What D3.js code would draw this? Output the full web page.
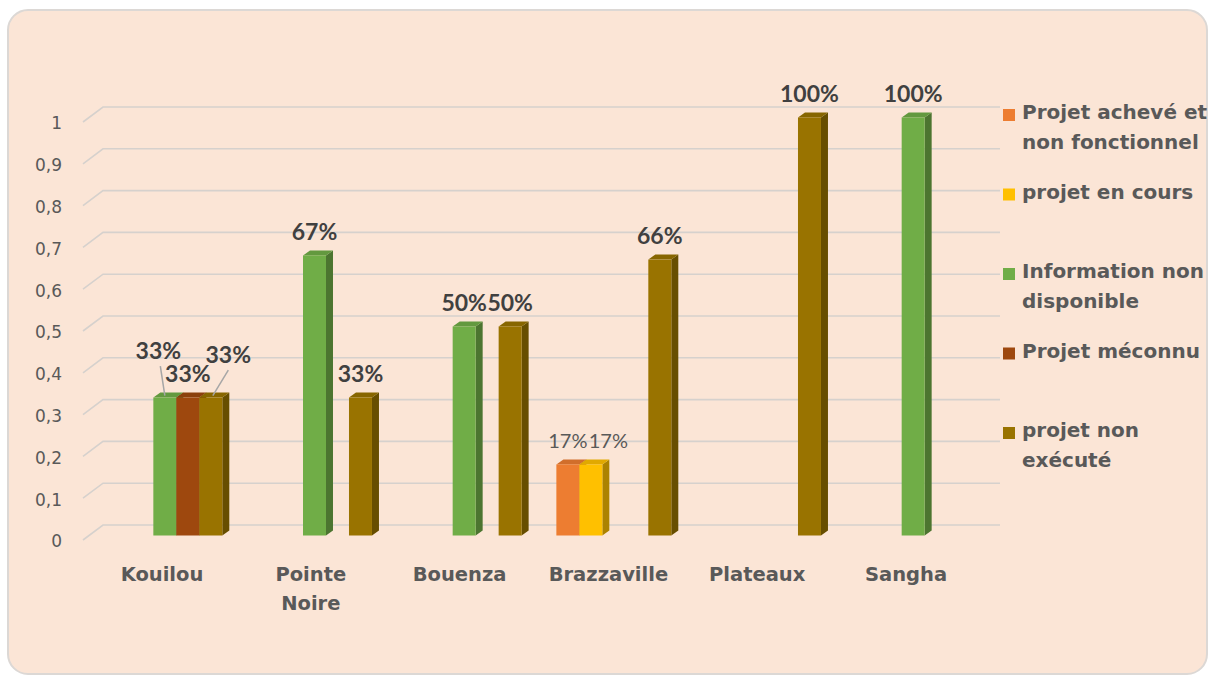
<!DOCTYPE html>
<html><head><meta charset="utf-8">
<script src="https://cdn.jsdelivr.net/npm/d3@7"></script>
<style>html,body{margin:0;padding:0;background:#fff;}svg{display:block;}</style>
</head><body>
<svg id="chart" width="1212" height="680"></svg>
<script>
// ---------- DATA ----------
const categories = ["Kouilou", "Pointe Noire", "Bouenza", "Brazzaville", "Plateaux", "Sangha"];
const seriesNames = ["Projet achevé et non fonctionnel", "projet en cours", "Information non disponible", "Projet méconnu", "projet non exécuté"];
const acheveNonFonctionnel = [null, null, null, 0.17, null, null];
const projetEnCours       = [null, null, null, 0.17, null, null];
const infoNonDisponible   = [0.33, 0.67, 0.50, null, null, 1.00];
const projetMeconnu       = [0.33, null, null, null, null, null];
const projetNonExecute    = [0.33, 0.33, 0.50, 0.66, 1.00, null];
const yTicks = [0, 0.1, 0.2, 0.3, 0.4, 0.5, 0.6, 0.7, 0.8, 0.9, 1];
const seriesColors = ["#ed7d31", "#ffc000", "#70ad47", "#9e480e", "#997300"];
const seriesValues = [acheveNonFonctionnel, projetEnCours, infoNonDisponible, projetMeconnu, projetNonExecute];

// ---------- LAYOUT ----------
const svg = d3.select("#chart");
svg.append("rect").attr("x", 8).attr("y", 10).attr("width", 1199).attr("height", 664)
  .attr("rx", 20).attr("fill", "#fbe5d6").attr("stroke", "#dcd8d5").attr("stroke-width", 2);

const yFront = d3.scaleLinear().domain([0, 1]).range([540, 122]);
const yBar = d3.scaleLinear().domain([0, 1]).range([535.5, 117.5]);
const depthX = 7, depthY = -5;
const wallDX = 20, wallDY = -15;

const x0 = d3.scaleBand().domain(categories).range([90, 988]).paddingInner(0.232).paddingOuter(0.116);
const x1 = d3.scaleBand().domain(seriesNames).range([0, x0.bandwidth()]).padding(0);
const labelX = d3.scalePoint().domain(categories).range([162, 906]);

// gridlines (3D back wall)
const grid = svg.append("g");
yTicks.forEach(t => {
  const y = yFront(t);
  grid.append("path")
    .attr("d", `M83,${y}L${83 + wallDX},${y + wallDY}L1000,${y + wallDY}`)
    .attr("fill", "none").attr("stroke", "#d6d1cd").attr("stroke-width", 1.6);
});

// y axis
const yAxis = svg.append("g").attr("transform", "translate(70,0)")
  .call(d3.axisLeft(yFront).tickValues(yTicks).tickSize(0).tickPadding(8)
    .tickFormat(d => String(+d.toFixed(1)).replace(".", ",")));
yAxis.select(".domain").remove();
yAxis.selectAll("text").attr("font-family", "DejaVu Sans").attr("font-size", 17)
  .attr("fill", "#595959").attr("dy", "0.4em");

// bars
const barsG = svg.append("g");
const bars = [];
categories.forEach((c, ci) => {
  seriesNames.forEach((s, si) => {
    const v = seriesValues[si][ci];
    if (v === null || v === undefined) return;
    bars.push({c, ci, s, si, v});
  });
});
bars.forEach(b => {
  const x = x0(b.c) + x1(b.s);
  const w = x1.bandwidth();
  const yt = yBar(b.v), yb = yBar(0);
  const col = d3.color(seriesColors[b.si]);
  const g = barsG.append("g");
  g.append("path")
    .attr("d", `M${x + w},${yt}L${x + w + depthX},${yt + depthY}L${x + w + depthX},${yb + depthY}L${x + w},${yb}Z`)
    .attr("fill", col.darker(1.1));
  g.append("path")
    .attr("d", `M${x},${yt}L${x + depthX},${yt + depthY}L${x + w + depthX},${yt + depthY}L${x + w},${yt}Z`)
    .attr("fill", col.darker(0.35));
  g.append("rect").attr("x", x).attr("y", yt).attr("width", w).attr("height", yb - yt)
    .attr("fill", col);
});

// data labels (placement adjustments for crowded labels)
const labelAdjust = {
  "Kouilou|Information non disponible": [-6.5, -22.5, true],
  "Kouilou|Projet méconnu": [0, 0, false],
  "Kouilou|projet non exécuté": [17.5, -18.5, true],
  "Brazzaville|projet en cours": [17.5, 0, false]
};
const lblG = svg.append("g");
bars.forEach(b => {
  const cx = x0(b.c) + x1(b.s) + x1.bandwidth() / 2;
  const top = yBar(b.v);
  let lx = cx, ly = top - 24;
  const adj = labelAdjust[b.c + "|" + b.s];
  if (adj) {
    lx += adj[0]; ly += adj[1];
    if (adj[2]) {
      lblG.append("line").attr("x1", lx + (adj[0] < 0 ? 2 : 0)).attr("y1", ly + 15)
        .attr("x2", cx + (adj[0] < 0 ? 0 : 2)).attr("y2", top - 2)
        .attr("stroke", "#a6a6a6").attr("stroke-width", 1.5);
    }
  }
  const small = b.v < 0.2;
  lblG.append("text").attr("x", lx).attr("y", ly).attr("dy", "0.36em")
    .attr("text-anchor", "middle")
    .attr("font-family", "Lato").attr("font-weight", small ? 400 : 700)
    .attr("font-size", small ? 20 : 23)
    .attr("fill", small ? "#595959" : "#404040")
    .text(Math.round(b.v * 100) + "%");
});

// category labels
const catG = svg.append("g");
categories.forEach(c => {
  const t = catG.append("text").attr("x", labelX(c)).attr("y", 581)
    .attr("text-anchor", "middle").attr("font-family", "DejaVu Sans")
    .attr("font-weight", "bold").attr("font-size", 19.5).attr("fill", "#595959");
  const words = c.split(" ");
  let line = [];
  let ts = t.append("tspan").attr("x", labelX(c)).attr("dy", 0);
  words.forEach(wd => {
    line.push(wd);
    ts.text(line.join(" "));
    if (ts.node().getComputedTextLength() > 122 && line.length > 1) {
      line.pop(); ts.text(line.join(" "));
      line = [wd];
      ts = t.append("tspan").attr("x", labelX(c)).attr("dy", 29).text(wd);
    }
  });
});

// legend
const legG = svg.append("g");
const legendLines = [["Projet achevé et", "non fonctionnel"], ["projet en cours"], ["Information non", "disponible"], ["Projet méconnu"], ["projet non", "exécuté"]];
const legY = d3.scaleLinear().domain([0, 4]).range([119, 437]);
seriesNames.forEach((s, i) => {
  const by = legY(i);
  legG.append("rect").attr("x", 1003).attr("y", by - 10).attr("width", 12).attr("height", 12)
    .attr("fill", seriesColors[i]);
  const t = legG.append("text").attr("x", 1022).attr("y", by)
    .attr("font-family", "DejaVu Sans").attr("font-weight", "bold").attr("font-size", 20)
    .attr("fill", "#595959");
  legendLines[i].forEach((ln, k) => {
    t.append("tspan").attr("x", 1022).attr("dy", k === 0 ? 0 : 30).text(ln);
  });
});
</script>
</body></html>
